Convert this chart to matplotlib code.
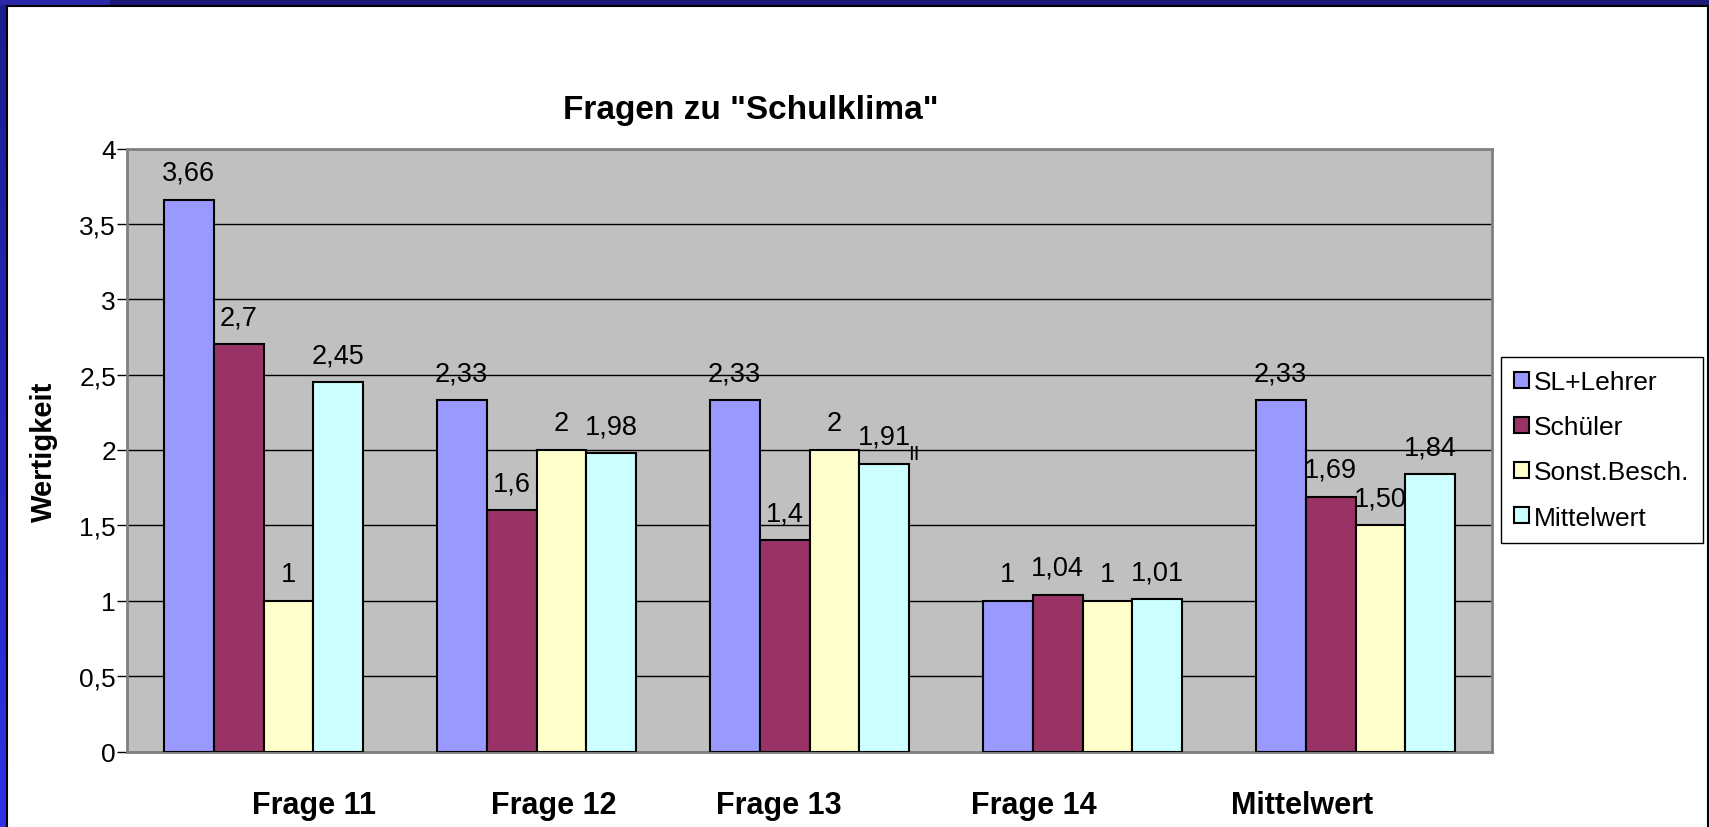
import numpy as np
import matplotlib
matplotlib.use("Agg")
import matplotlib.pyplot as plt
import matplotlib.transforms as mtransforms
from matplotlib.patches import Rectangle

plt.rcParams['font.family'] = ['Liberation Sans', 'DejaVu Sans']

# data
categories = ['Frage 11', 'Frage 12', 'Frage 13', 'Frage 14', 'Mittelwert']
series = ['SL+Lehrer', 'Schüler', 'Sonst.Besch.', 'Mittelwert']
sl_lehrer = [3.66, 2.33, 2.33, 1.00, 2.33]
schueler = [2.70, 1.60, 1.40, 1.04, 1.69]
sonst = [1.00, 2.00, 2.00, 1.00, 1.50]
mittel = [2.45, 1.98, 1.91, 1.01, 1.84]
labels_sl = ['3,66', '2,33', '2,33', '1', '2,33']
labels_sch = ['2,7', '1,6', '1,4', '1,04', '1,69']
labels_so = ['1', '2', '2', '1', '1,50']
labels_mi = ['2,45', '1,98', '1,91', '1,01', '1,84']

values = [sl_lehrer, schueler, sonst, mittel]
bar_labels = [labels_sl, labels_sch, labels_so, labels_mi]
colors = ['#9999FF', '#993366', '#FFFFCC', '#CCFFFF']

W, H = 1709, 828
fig = plt.figure(figsize=(W / 100, H / 100), dpi=100)
fig.patch.set_facecolor('white')

# slide frame: top band + left strip + borders
fig.patches.append(Rectangle((0, 1 - 6 / H), 1, 6 / H, transform=fig.transFigure,
                             facecolor='#1b1a78', edgecolor='none', zorder=0))
fig.patches.append(Rectangle((0, 1 - 6 / H), 110 / W, 6 / H, transform=fig.transFigure,
                             facecolor='#2a28a8', edgecolor='none', zorder=0))
strip = fig.add_axes([0, 0, 6 / W, 1 - 6 / H])
grad = np.linspace(0, 1, 256).reshape(-1, 1)
strip.imshow(grad, aspect='auto', cmap=matplotlib.colors.LinearSegmentedColormap.from_list(
    'b', ['#1c1c90', '#3030e6']), extent=(0, 1, 0, 1))
strip.axis('off')
fig.add_artist(plt.Line2D([6.5 / W, 1], [1 - 6.5 / H, 1 - 6.5 / H], color='black', lw=1.5,
                          transform=fig.transFigure))
fig.add_artist(plt.Line2D([6.5 / W, 6.5 / W], [0, 1 - 6.5 / H], color='black', lw=1.5,
                          transform=fig.transFigure))
fig.add_artist(plt.Line2D([1707.5 / W, 1707.5 / W], [0, 1 - 6.5 / H], color='black', lw=1.5,
                          transform=fig.transFigure))

ax = fig.add_axes([127 / W, 1 - 752.5 / H, (1492 - 127) / W, (752.5 - 149.5) / H])
ax.set_facecolor('#C0C0C0')

x = np.arange(len(categories))
w = 0.183
for j, (vals, col, name) in enumerate(zip(values, colors, series)):
    bars = ax.bar(x + (j - 1.5) * w, vals, w, color=col, edgecolor='black',
                  linewidth=1.5, label=name, zorder=3)
    for b, txt in zip(bars, bar_labels[j]):
        ax.annotate(txt, (b.get_x() + b.get_width() / 2, b.get_height()),
                    xytext=(0, 10), textcoords='offset points', ha='center',
                    va='bottom', fontsize=19.5, zorder=4)

# stray mark next to 1,91
ax.annotate('II', (x[2] + 2 * w, mittel[2]), xytext=(-1, 3),
            textcoords='offset points', ha='left', va='baseline', fontsize=15, zorder=4)

ax.set_xlim(-0.5, len(categories) - 0.5)
ax.set_ylim(0, 4)
ax.set_yticks(np.arange(0, 4.01, 0.5))
ax.set_yticklabels([('%g' % v).replace('.', ',') for v in np.arange(0, 4.01, 0.5)],
                   fontsize=19)
ax.yaxis.grid(True, color='black', linewidth=1)
ax.set_axisbelow(True)
ax.tick_params(axis='y', length=7, width=1, pad=1, color='black')

ax.set_xticks(x)
ax.set_xticklabels(categories, fontsize=22, fontweight='bold')
ax.tick_params(axis='x', length=0, pad=28)
shifts = [50, 17, -31, -49, -53]
for lab, dx in zip(ax.get_xticklabels(), shifts):
    lab.set_transform(lab.get_transform() + mtransforms.ScaledTranslation(dx / 100, 0, fig.dpi_scale_trans))

for s in ax.spines.values():
    s.set_color('#808080')
    s.set_linewidth(2)

fig.text(751 / W, 1 - 119 / H, 'Fragen zu "Schulklima"', fontsize=24, fontweight='bold',
         ha='center', va='baseline')
fig.text(44 / W, 1 - 452 / H, 'Wertigkeit', fontsize=21, fontweight='bold',
         rotation=90, ha='center', va='center')

leg = fig.legend(loc='upper left', bbox_to_anchor=(1501 / W, 1 - 358 / H), fontsize=19,
                 frameon=True, fancybox=False, edgecolor='black', framealpha=1,
                 handlelength=0.55, handleheight=0.55, handletextpad=0.2,
                 labelspacing=0.8, borderpad=0.5, borderaxespad=0)
leg.get_frame().set_linewidth(1)

fig.savefig('out.png', dpi=100, facecolor=fig.get_facecolor())
